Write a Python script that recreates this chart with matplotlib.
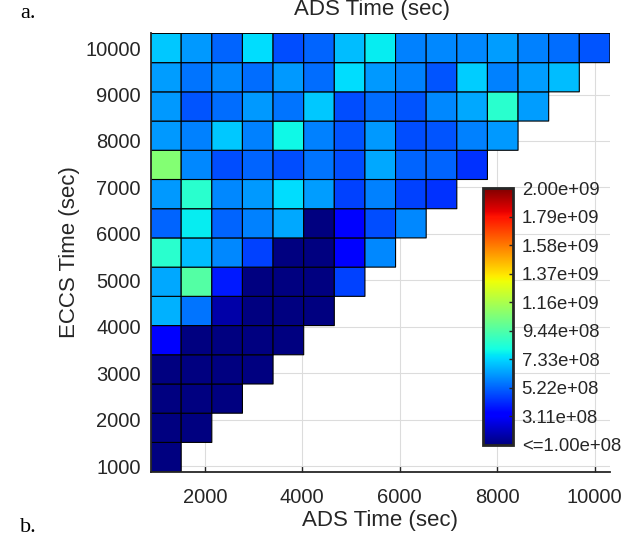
import numpy as np
import matplotlib
matplotlib.use("Agg")
import matplotlib.pyplot as plt

# cell centres (sec)
ads_time = np.linspace(1200, 10000, 15)
eccs_time = np.linspace(1200, 10000, 15)

# values in units of 1e8, rows listed from top (ECCS=10000) to bottom
rows_top_down = [
    [7.1, 6.2, 5.3, 7.5, 4.8, 5.3, 6.9, 7.8, 5.75, 5.9, 5.9, 6.3, 5.75, 5.4, 5.0],
    [6.3, 5.6, 5.9, 5.4, 6.2, 5.4, 7.5, 6.2, 5.75, 5.0, 7.2, 5.75, 6.3, 6.9],
    [6.2, 5.0, 5.4, 6.2, 5.6, 7.1, 4.8, 5.4, 5.0, 5.9, 6.5, 8.6, 6.3],
    [6.2, 5.75, 7.1, 5.75, 8.0, 5.75, 5.0, 6.2, 4.8, 5.0, 5.75, 6.2],
    [10.7, 5.9, 4.8, 5.3, 4.8, 5.6, 4.8, 6.5, 5.3, 5.3, 4.3],
    [6.2, 8.6, 5.9, 6.2, 7.5, 6.3, 4.6, 5.75, 4.6, 4.3],
    [5.3, 7.8, 5.3, 5.75, 6.5, 0.8, 3.4, 4.8, 5.9],
    [8.6, 6.9, 5.9, 4.6, 0.8, 0.8, 3.4, 5.9],
    [6.5, 9.55, 3.85, 0.8, 0.8, 0.8, 4.6],
    [6.7, 5.6, 1.7, 0.8, 0.8, 0.8],
    [3.1, 0.8, 0.8, 0.8, 0.8],
    [0.8, 0.8, 0.8, 0.8],
    [0.8, 0.8, 0.8],
    [0.8, 0.8],
    [0.8],
]

cbar_ticks = np.linspace(1e8, 2e9, 10)
cbar_labels = ["<=1.00e+08", "3.11e+08", "5.22e+08", "7.33e+08", "9.44e+08",
               "1.16e+09", "1.37e+09", "1.58e+09", "1.79e+09", "2.00e+09"]

n = len(ads_time)
Z = np.full((n, n), np.nan)
for i, row in enumerate(rows_top_down[::-1]):
    Z[i, :len(row)] = np.array(row) * 1e8
Z = np.ma.masked_invalid(Z)

def edges(c):
    d = c[1] - c[0]
    return np.append(c - d / 2, c[-1] + d / 2)

plt.rcParams['font.family'] = ['Liberation Sans', 'DejaVu Sans']
txt = '#262626'

fig = plt.figure(figsize=(6.38, 5.39), dpi=100)
ax = fig.add_axes([0.236, 0.125, 0.72, 0.813])
ax.set_axisbelow(True)
# pcolor drops masked cells entirely (no edges drawn for them)
mesh = ax.pcolor(edges(ads_time), edges(eccs_time), Z, cmap='jet',
                 vmin=1e8, vmax=2e9, edgecolors='k', linewidth=0.8)
ax.set_xlim(edges(ads_time)[0], edges(ads_time)[-1])
ax.set_ylim(edges(eccs_time)[0], edges(eccs_time)[-1])
ax.set_xticks(np.arange(2000, 10001, 2000))
ax.set_yticks(np.arange(1000, 10001, 1000))
ax.grid(True, color='#dcdcdc', linewidth=0.8)
for s in ['top', 'right']:
    ax.spines[s].set_visible(False)
for s in ['bottom', 'left']:
    ax.spines[s].set_color(txt)
    ax.spines[s].set_linewidth(1.3)
ax.tick_params(axis='x', direction='in', length=4, width=1, colors=txt, labelsize=14.5, pad=12)
ax.tick_params(axis='y', direction='in', length=4, width=1, colors=txt, labelsize=14.5, pad=7)
ax.set_xlabel("ADS Time (sec)", fontsize=16, color=txt, labelpad=2)
ax.set_ylabel("ECCS Time (sec)", fontsize=16, color=txt, labelpad=4)
fig.text(372 / 638, 1 - 9 / 539, "ADS Time (sec)", ha='center', va='center',
         fontsize=16, color=txt)

cax = fig.add_axes([0.7576, 0.1744, 0.047, 0.476])
cb = fig.colorbar(mesh, cax=cax, ticks=cbar_ticks)
cb.ax.set_yticklabels(cbar_labels)
cb.ax.tick_params(direction='in', length=3, width=1, colors=txt, labelsize=13.3, pad=6)
cb.outline.set_linewidth(2)
cb.outline.set_edgecolor(txt)

fig.text(20 / 638, 1 - 13 / 539, "a.", fontsize=16, family='Liberation Serif', va='center')
fig.text(20 / 638, 1 - 528 / 539, "b.", fontsize=16, family='Liberation Serif', va='center')

fig.savefig("out.png", dpi=100)
plt.close()
